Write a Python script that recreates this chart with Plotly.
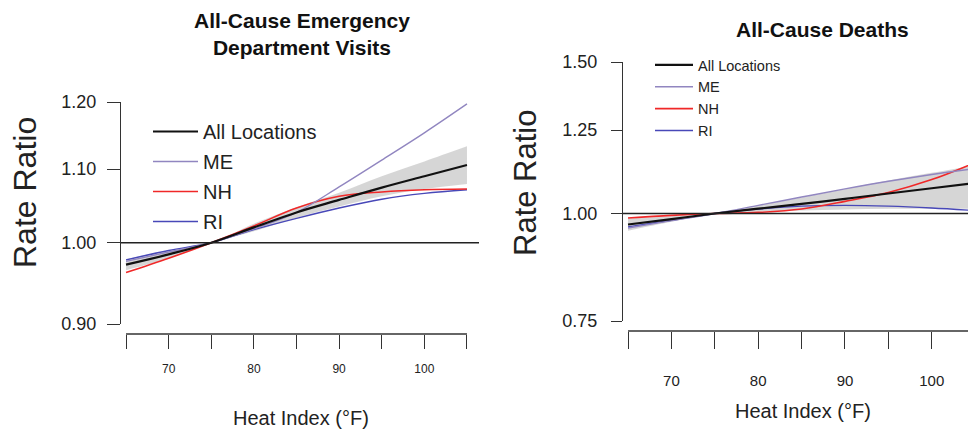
import math
import plotly.graph_objects as go

# page body adds an 8px margin, so the figure is sized to fit the 976x433 window
OFF = 8
W, H = 976 - OFF, 433 - OFF

# ---------------- data ----------------
heat_index = [65, 70, 75, 80, 85, 90, 95, 100, 105]

# All-Cause Emergency Department Visits (rate ratios)
ed_all = [0.972, 0.985, 1.000, 1.020, 1.040, 1.057, 1.074, 1.090, 1.106]
ed_all_lo = [0.965, 0.980, 1.000, 1.015, 1.033, 1.048, 1.062, 1.072, 1.079]
ed_all_hi = [0.979, 0.990, 1.000, 1.025, 1.047, 1.067, 1.090, 1.111, 1.133]
ed_me = [0.976, 0.988, 1.000, 1.018, 1.040, 1.075, 1.113, 1.153, 1.197]
ed_nh = [0.962, 0.980, 1.000, 1.022, 1.046, 1.062, 1.068, 1.071, 1.072]
ed_ri = [0.978, 0.990, 1.000, 1.017, 1.032, 1.046, 1.058, 1.066, 1.071]

# All-Cause Deaths (rate ratios)
d_all = [0.971, 0.985, 1.000, 1.013, 1.026, 1.040, 1.055, 1.070, 1.085]
d_all_lo = [0.955, 0.978, 1.000, 1.005, 1.008, 1.011, 1.013, 1.013, 1.013]
d_all_hi = [0.987, 0.993, 1.000, 1.022, 1.044, 1.068, 1.092, 1.115, 1.137]
d_me = [0.962, 0.981, 1.000, 1.022, 1.045, 1.068, 1.090, 1.110, 1.128]
d_nh = [0.988, 0.995, 1.000, 1.003, 1.012, 1.033, 1.058, 1.095, 1.146]
d_ri = [0.965, 0.982, 1.000, 1.012, 1.020, 1.022, 1.020, 1.015, 1.008]

x_ticks = [65, 70, 75, 80, 85, 90, 95, 100, 105]
x_tick_text = ["", "70", "", "80", "", "90", "", "100", ""]
ed_y_ticks = [0.90, 1.00, 1.10, 1.20]
d_y_ticks = [0.75, 1.00, 1.25, 1.50]
ref_value = 1.0

series_names = ["All Locations", "ME", "NH", "RI"]
colors = {"All Locations": "#111111", "ME": "#9186c0", "NH": "#f02828", "RI": "#4848b8"}
widths = {"All Locations": 2.2, "ME": 1.4, "NH": 1.6, "RI": 1.4}

# ---------------- helpers (window pixel -> paper fraction) ----------------
def fx(px):
    return (px - OFF) / W

def fy(py):
    return 1 - (py - OFF) / H

SANS = "Liberation Sans, Arial, Helvetica, sans-serif"
TXT = "#222222"

fig = go.Figure()

panels = [
    dict(xa="x", ya="y", legend="legend",
         vals={"All Locations": ed_all, "ME": ed_me, "NH": ed_nh, "RI": ed_ri},
         lo=ed_all_lo, hi=ed_all_hi),
    dict(xa="x2", ya="y2", legend="legend2",
         vals={"All Locations": d_all, "ME": d_me, "NH": d_nh, "RI": d_ri},
         lo=d_all_lo, hi=d_all_hi),
]

for p in panels:
    # confidence band (lower edge, then upper edge filled to it)
    fig.add_trace(go.Scatter(
        x=heat_index, y=p["lo"], mode="lines",
        line=dict(width=0, shape="spline"),
        hoverinfo="skip", showlegend=False,
        xaxis=p["xa"], yaxis=p["ya"],
    ))
    fig.add_trace(go.Scatter(
        x=heat_index, y=p["hi"], mode="lines",
        fill="tonexty", fillcolor="rgba(200,200,200,0.75)",
        line=dict(width=0, shape="spline"),
        hoverinfo="skip", showlegend=False,
        xaxis=p["xa"], yaxis=p["ya"],
    ))
    draw_order = ["RI", "NH", "ME", "All Locations"]
    for name in draw_order:
        fig.add_trace(go.Scatter(
            x=heat_index, y=p["vals"][name], mode="lines", name=name,
            line=dict(color=colors[name], width=widths[name], shape="spline"),
            xaxis=p["xa"], yaxis=p["ya"], legend=p["legend"],
            legendgroup=p["legend"] + name,
            legendrank=series_names.index(name) + 1,
        ))

axis_common = dict(showgrid=False, zeroline=False, ticks="outside",
                   tickcolor="#333333", tickwidth=1.3, automargin=False)

fig.update_layout(
    template="none",
    width=W, height=H,
    margin=dict(l=0, r=0, t=0, b=0, pad=0, autoexpand=False),
    paper_bgcolor="white", plot_bgcolor="white",
    showlegend=True,
    xaxis=dict(domain=[fx(121), fx(479)], range=[64.41, 106.41],
               anchor="free", position=fy(334), showline=False,
               tickvals=x_ticks, ticktext=x_tick_text, ticklen=14,
               ticklabelstandoff=10,
               tickfont=dict(family=SANS, size=12, color=TXT), **axis_common),
    yaxis=dict(domain=[fy(324), fy(102)], type="log",
               range=[math.log10(min(ed_y_ticks)), math.log10(max(ed_y_ticks))],
               anchor="x", showline=True, linecolor="#333333", linewidth=1.3,
               tickvals=ed_y_ticks, ticktext=[f"{v:.2f}" for v in ed_y_ticks],
               ticklen=13, ticklabelstandoff=7,
               tickfont=dict(family=SANS, size=18, color=TXT), **axis_common),
    xaxis2=dict(domain=[fx(623), 1.0], range=[64.42, 105.1],
                anchor="free", position=fy(331), showline=False,
                tickvals=x_ticks, ticktext=x_tick_text, ticklen=17,
                ticklabelstandoff=19,
                tickfont=dict(family=SANS, size=15, color=TXT), **axis_common),
    yaxis2=dict(domain=[fy(321), fy(62)], type="log",
                range=[math.log10(min(d_y_ticks)), math.log10(max(d_y_ticks))],
                anchor="x2", showline=True, linecolor="#333333", linewidth=1.3,
                tickvals=d_y_ticks, ticktext=[f"{v:.2f}" for v in d_y_ticks],
                ticklen=11, ticklabelstandoff=10,
                tickfont=dict(family=SANS, size=18, color=TXT), **axis_common),
    legend=dict(x=fx(148), y=fy(112), xanchor="left", yanchor="top",
                bgcolor="rgba(0,0,0,0)", borderwidth=0, itemwidth=45,
                tracegroupgap=1, traceorder="grouped",
                font=dict(family=SANS, size=20, color=TXT)),
    legend2=dict(x=fx(650), y=fy(49), xanchor="left", yanchor="top",
                 bgcolor="rgba(0,0,0,0)", borderwidth=0, itemwidth=38,
                 tracegroupgap=0, traceorder="grouped",
                 font=dict(family=SANS, size=14.5, color=TXT)),
)

shapes = []
for xa, ya, pos in [("x", "y", fy(334)), ("x2", "y2", fy(331))]:
    # reference line at rate ratio 1
    shapes.append(dict(type="line", xref=f"{xa} domain", yref=ya,
                       x0=0, x1=1, y0=ref_value, y1=ref_value,
                       line=dict(color="#222222", width=1.6), layer="above"))
    # R-style x-axis line spanning first to last tick
    shapes.append(dict(type="line", xref=xa, yref="paper",
                       x0=x_ticks[0], x1=x_ticks[-1], y0=pos, y1=pos,
                       line=dict(color="#333333", width=1.3)))
fig.update_layout(shapes=shapes)

annotations = [
    dict(text="<b>All-Cause Emergency<br>Department Visits</b>", x=fx(302), y=fy(34),
         font=dict(family=SANS, size=21, color="#111111")),
    dict(text="<b>All-Cause Deaths</b>", x=fx(822), y=fy(30),
         font=dict(family=SANS, size=21, color="#111111")),
    dict(text="Heat Index (°F)", x=fx(301), y=fy(418),
         font=dict(family=SANS, size=20, color=TXT)),
    dict(text="Heat Index (°F)", x=fx(803), y=fy(411),
         font=dict(family=SANS, size=20, color=TXT)),
    dict(text="Rate Ratio", x=fx(25), y=fy(193), textangle=-90,
         font=dict(family=SANS, size=32, color=TXT)),
    dict(text="Rate Ratio", x=fx(525), y=fy(183), textangle=-90,
         font=dict(family=SANS, size=31, color=TXT)),
]
for a in annotations:
    a.update(xref="paper", yref="paper", showarrow=False,
             xanchor="center", yanchor="middle")
fig.update_layout(annotations=annotations)

fig.write_html("out.html")
